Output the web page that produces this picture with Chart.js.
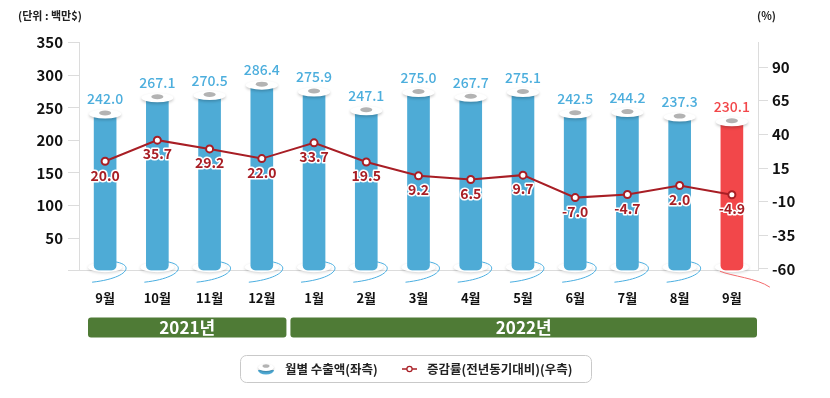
<!DOCTYPE html>
<html><head><meta charset="utf-8">
<script src="https://cdn.jsdelivr.net/npm/chart.js@4"></script>
<style>html,body{margin:0;padding:0;background:#fff}#wrap{width:830px;height:398px;position:relative}</style>
</head><body><div id="wrap"><canvas id="c" width="830" height="398"></canvas></div>
<script>
// ---- data ----
const categories = ['9월','10월','11월','12월','1월','2월','3월','4월','5월','6월','7월','8월','9월'];
const exportValues = [242.0,267.1,270.5,286.4,275.9,247.1,275.0,267.7,275.1,242.5,244.2,237.3,230.1];
const growthRates = [20.0,35.7,29.2,22.0,33.7,19.5,9.2,6.5,9.7,-7.0,-4.7,2.0,-4.9];
const leftTicks = [0,50,100,150,200,250,300,350];
const rightTicks = [-60,-35,-10,15,40,65,90];
const yearLabels = ['2021년','2022년'];
const yearFirstIndex = [0,4];
const yearLastIndex = [3,12];
const seriesNames = ['월별 수출액(좌측)','증감률(전년동기대비)(우측)'];
const unitLeft = '(단위 : 백만$)';
const unitRight = '(%)';

// ---- style ----
const FONT = "'Noto Sans CJK KR','Noto Sans',sans-serif";
const BLUE = '#4eabd6', LBLUE = '#4caedd', RED = '#f2474a', LINE = '#a81e25', GREEN = '#4f7b36', AXIS = '#dcdcdc';

const spoolPlugin = {
  id: 'spool',
  beforeDatasetsDraw(chart) {
    const ctx = chart.ctx;
    const meta = chart.getDatasetMeta(1);
    const n = meta.data.length;
    meta.data.forEach((bar, i) => {
      const cx = bar.x, by = bar.base, last = i === n - 1;
      ctx.save();
      ctx.fillStyle = '#fff';
      ctx.shadowColor = 'rgba(0,0,0,0.18)'; ctx.shadowBlur = 3; ctx.shadowOffsetY = 1;
      ctx.beginPath(); ctx.ellipse(cx, by - 3, 17, 5, 0, 0, Math.PI * 2); ctx.fill();
      ctx.restore();
      ctx.save();
      ctx.strokeStyle = last ? '#f36a6c' : '#4aaee0'; ctx.lineWidth = 1;
      ctx.beginPath();
      if (!last) { ctx.moveTo(cx + 5, by - 9); ctx.bezierCurveTo(cx + 32, by - 7, cx + 24, by + 8, cx - 13, by + 12); }
      else { ctx.moveTo(cx - 12, by + 1); ctx.bezierCurveTo(cx, by + 6, cx + 25, by + 8, cx + 38, by + 17); }
      ctx.stroke();
      ctx.restore();
    });
  },
  afterDatasetDraw(chart, args) {
    if (args.index !== 1) return;
    const ctx = chart.ctx;
    const meta = chart.getDatasetMeta(1);
    const n = meta.data.length;
    meta.data.forEach((bar, i) => {
      const cx = bar.x, ty = bar.y, last = i === n - 1;
      ctx.save();
      ctx.fillStyle = '#fff';
      ctx.shadowColor = 'rgba(0,0,0,0.22)'; ctx.shadowBlur = 3; ctx.shadowOffsetY = 1.5;
      ctx.beginPath(); ctx.ellipse(cx, ty + 1, 16, 4.5, 0, 0, Math.PI * 2); ctx.fill();
      ctx.restore();
      ctx.save();
      ctx.fillStyle = '#b3b3b3';
      ctx.beginPath(); ctx.ellipse(cx, ty, 6, 2.5, 0, 0, Math.PI * 2); ctx.fill();
      ctx.fillStyle = last ? RED : LBLUE;
      ctx.font = '500 14px ' + FONT; ctx.textAlign = 'center'; ctx.textBaseline = 'middle';
      ctx.fillText(exportValues[i].toFixed(1), cx, ty - 14);
      ctx.restore();
    });
  },
  afterDatasetsDraw(chart) {
    const ctx = chart.ctx;
    const meta = chart.getDatasetMeta(0);
    ctx.save();
    ctx.font = 'bold 14px ' + FONT; ctx.textAlign = 'center'; ctx.textBaseline = 'middle';
    ctx.lineJoin = 'round';
    meta.data.forEach((pt, i) => {
      const t = growthRates[i].toFixed(1);
      ctx.strokeStyle = '#fff'; ctx.lineWidth = 3;
      ctx.strokeText(t, pt.x, pt.y + 14);
      ctx.fillStyle = LINE;
      ctx.fillText(t, pt.x, pt.y + 14);
    });
    ctx.restore();
  },
  afterDraw(chart) {
    const ctx = chart.ctx;
    const xs = chart.scales.x;
    const half = (xs.getPixelForValue(1) - xs.getPixelForValue(0)) / 2;
    // year bands
    ctx.save();
    yearLabels.forEach((lab, k) => {
      let l = xs.getPixelForValue(yearFirstIndex[k]) - half;
      let r = xs.getPixelForValue(yearLastIndex[k]) + half;
      l += (k === 0) ? 9 : 2.5;
      r -= (k === yearLabels.length - 1) ? 1 : 1.5;
      ctx.fillStyle = GREEN;
      ctx.beginPath(); ctx.roundRect(l, 317.5, r - l, 20, 3); ctx.fill();
      ctx.fillStyle = '#fff';
      ctx.font = 'bold 17px ' + FONT; ctx.textAlign = 'center'; ctx.textBaseline = 'middle';
      ctx.fillText(lab, (l + r) / 2, 328);
    });
    // legend
    ctx.strokeStyle = '#c9c9c9'; ctx.lineWidth = 1;
    ctx.beginPath(); ctx.roundRect(240.5, 355.5, 351, 27, 6); ctx.stroke();
    // spool icon
    ctx.fillStyle = BLUE;
    ctx.beginPath(); ctx.ellipse(266, 370, 8, 4.5, 0, 0, Math.PI); ctx.fill();
    ctx.save();
    ctx.fillStyle = '#fff'; ctx.shadowColor = 'rgba(0,0,0,0.25)'; ctx.shadowBlur = 2; ctx.shadowOffsetY = 1;
    ctx.beginPath(); ctx.ellipse(266, 367.5, 8, 3.5, 0, 0, Math.PI * 2); ctx.fill();
    ctx.restore();
    ctx.fillStyle = '#b3b3b3';
    ctx.beginPath(); ctx.ellipse(266, 366, 3.5, 1.8, 0, 0, Math.PI * 2); ctx.fill();
    // line icon
    ctx.strokeStyle = LINE; ctx.lineWidth = 1.5;
    ctx.beginPath(); ctx.moveTo(402, 369); ctx.lineTo(417, 369); ctx.stroke();
    ctx.fillStyle = '#fff'; ctx.lineWidth = 1.2;
    ctx.beginPath(); ctx.arc(409.5, 369, 2.6, 0, Math.PI * 2); ctx.fill(); ctx.stroke();
    ctx.fillStyle = '#222'; ctx.font = 'bold 12.5px ' + FONT; ctx.textAlign = 'left'; ctx.textBaseline = 'middle';
    ctx.fillText(seriesNames[0], 285, 369.5);
    ctx.fillText(seriesNames[1], 427, 369.5);
    // unit labels
    ctx.font = 'bold 11px ' + FONT; ctx.fillStyle = '#222';
    ctx.fillText(unitLeft, 18, 16);
    ctx.fillText(unitRight, 757, 16);
    ctx.restore();
  }
};

const tickFont = { family: FONT, size: 15, weight: 'bold' };
new Chart(document.getElementById('c'), {
  type: 'bar',
  data: {
    labels: categories,
    datasets: [
      { type: 'line', label: seriesNames[1], data: growthRates, yAxisID: 'y1', order: 0,
        borderColor: LINE, borderWidth: 2, tension: 0,
        pointRadius: 3.5, pointBackgroundColor: '#fff', pointBorderColor: LINE, pointBorderWidth: 2 },
      { type: 'bar', label: seriesNames[0], data: exportValues, yAxisID: 'y', order: 1,
        backgroundColor: exportValues.map((v, i) => i === exportValues.length - 1 ? RED : BLUE),
        barThickness: 22, borderSkipped: false,
        borderRadius: { topLeft: 0, topRight: 0, bottomLeft: 5, bottomRight: 5 } }
    ]
  },
  options: {
    responsive: false, animation: false, devicePixelRatio: 1,
    layout: { padding: { top: 42.7, left: 0, right: 0, bottom: 0 } },
    plugins: { legend: { display: false }, tooltip: { enabled: false } },
    scales: {
      x: {
        grid: { display: false, drawTicks: false },
        border: { display: true, color: AXIS, width: 1 },
        ticks: { font: { family: FONT, size: 13, weight: 'bold' }, color: '#111', padding: 20, maxRotation: 0, autoSkip: false },
        afterFit: s => { s.height = 127.3; }
      },
      y: {
        position: 'left', min: 0, max: 350,
        afterBuildTicks: s => { s.ticks = leftTicks.map(v => ({ value: v })); },
        ticks: { callback: v => (v === 0 ? '' : v), font: tickFont, color: '#111', padding: 5 },
        grid: { drawOnChartArea: false, drawTicks: true, tickLength: 11, color: AXIS },
        border: { display: true, color: AXIS },
        afterFit: s => { s.width = 79; }
      },
      y1: {
        position: 'right', min: -61.3, max: 108.1,
        afterBuildTicks: s => { s.ticks = rightTicks.map(v => ({ value: v })); },
        ticks: { font: tickFont, color: '#111', padding: 4 },
        grid: { drawOnChartArea: false, drawTicks: true, tickLength: 10, color: AXIS },
        border: { display: true, color: AXIS },
        afterFit: s => { s.width = 72; }
      }
    }
  },
  plugins: [spoolPlugin]
});
</script></body></html>
